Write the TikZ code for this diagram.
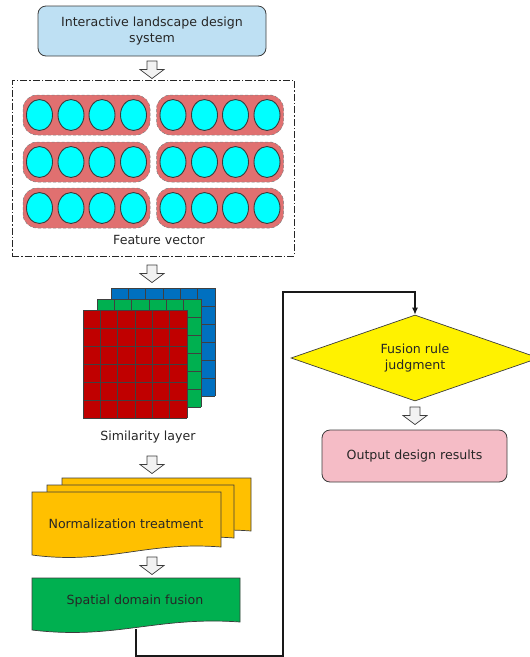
\documentclass[tikz,border=0pt]{standalone}
\usepackage{fontspec}
\setmainfont{DejaVu Sans}
\usetikzlibrary{shapes.geometric,arrows.meta}

\definecolor{boxblue}{RGB}{190,224,243}
\definecolor{boxpink}{RGB}{245,188,198}
\definecolor{pillred}{RGB}{224,112,112}
\definecolor{cellcyan}{RGB}{0,255,255}
\definecolor{docorange}{RGB}{255,192,0}
\definecolor{docgreen}{RGB}{0,176,80}
\definecolor{layerred}{RGB}{192,0,0}
\definecolor{layergreen}{RGB}{0,176,80}
\definecolor{layerblue}{RGB}{0,112,192}
\definecolor{arrowgray}{RGB}{242,242,242}
\definecolor{edgegray}{RGB}{60,60,60}

\tikzset{
  labeltext/.style={font=\fontsize{12.6}{16}\selectfont, text=black!85, align=center},
  roundbox/.style={draw=edgegray, line width=0.8pt, rounded corners=8pt, labeltext},
  pill/.style={fill=pillred, draw=gray, densely dashed, line width=0.5pt, rounded corners=14pt},
  cell/.style={fill=cellcyan, draw=edgegray, line width=0.9pt},
  docline/.style={draw=edgegray, line width=0.7pt},
  gridline/.style={draw=black!75, line width=0.5pt},
  flowline/.style={draw=black!90, line width=1.2pt},
  hollowdown/.pic={
    \draw[fill=arrowgray, draw=edgegray, line width=0.7pt]
      (-5,0) -- (5,0) -- (5,8.5) -- (12,8.5) -- (0,17.5) -- (-12,8.5) -- (-5,8.5) -- cycle;
  }
}

% a layer of 6x6 cells with its top left corner at (#1,#2)
\newcommand{\celllayer}[3]{%
  \fill[#3] (#1,#2) rectangle ++(104,108);
  \foreach \k in {0,...,6}{
    \draw[gridline] ({#1+\k*104/6},#2) -- ++(0,108);
    \draw[gridline] (#1,{#2+\k*18}) -- ++(104,0);
  }
}

% a document shape with a wavy lower edge
\newcommand{\docpath}[5]{%
  \path[docline, fill=#5] (#1,#2) -- (#3,#2) -- (#3,{#4-8})
    .. controls ({#3-0.4*(#3-#1)},{#4-14}) and ({#1+0.4*(#3-#1)},{#4+10}) .. (#1,#4) -- cycle;
}

\begin{document}
\begin{tikzpicture}[x=1pt,y=-1pt]
\useasboundingbox (0,0) rectangle (530,657);

% input system
\node[roundbox, fill=boxblue, minimum width=228pt, minimum height=50pt] (sys) at (152,31)
  {Interactive landscape design\\system};
\pic at (152,61) {hollowdown};

% feature vector block
\node[draw=black!85, line width=0.7pt, dash pattern=on 7pt off 2pt on 1.5pt off 2pt,
      minimum width=282pt, minimum height=176pt] (fv) at (153,168) {};
\foreach \ry in {115,162,208}{
  \foreach \px in {86.5,220}{
    \path[pill] (\px-63.5,\ry-20) rectangle (\px+63.5,\ry+20);
    \foreach \dx in {-47,-15.5,15.5,47}{
      \path[cell] (\px+\dx,\ry) ellipse [x radius=13, y radius=15.5];
    }
  }
}
\node[labeltext] (fvlabel) at (159,240) {Feature vector};
\pic at (152,265) {hollowdown};

% similarity layer
\celllayer{111}{288}{layerblue}
\celllayer{97}{299}{layergreen}
\celllayer{83}{310}{layerred}
\node[labeltext] (sim) at (148,437) {Similarity layer};
\pic at (152,456) {hollowdown};

% normalization treatment
\docpath{62}{478}{251}{539}{docorange}
\docpath{47}{485}{234}{546}{docorange}
\docpath{32}{492}{221}{555}{docorange}
\node[labeltext] (norm) at (126,524) {Normalization treatment};
\pic at (152,557) {hollowdown};

% spatial domain fusion
\docpath{32}{578}{240}{630}{docgreen}
\node[labeltext] (spat) at (135,601) {Spatial domain fusion};
\coordinate (spatbot) at (136,629);

% fusion rule and output
\node[diamond, aspect=2.88, inner sep=0pt, minimum width=248pt, minimum height=86pt,
      fill=yellow, draw=edgegray, line width=0.7pt, labeltext] (rule) at (415,358)
  {Fusion rule\\judgment};
\pic at (415,407) {hollowdown};
\node[roundbox, fill=boxpink, minimum width=185pt, minimum height=52pt] (out) at (414.5,456)
  {Output design results};

% feedback connector
\coordinate (lowcorner) at (283,656);
\coordinate (highcorner) at (283,292);
\draw[flowline, -{Latex[length=7pt,width=6pt]}] (spatbot) |- (lowcorner) -- (highcorner) -| (rule.north);
\end{tikzpicture}
\end{document}
